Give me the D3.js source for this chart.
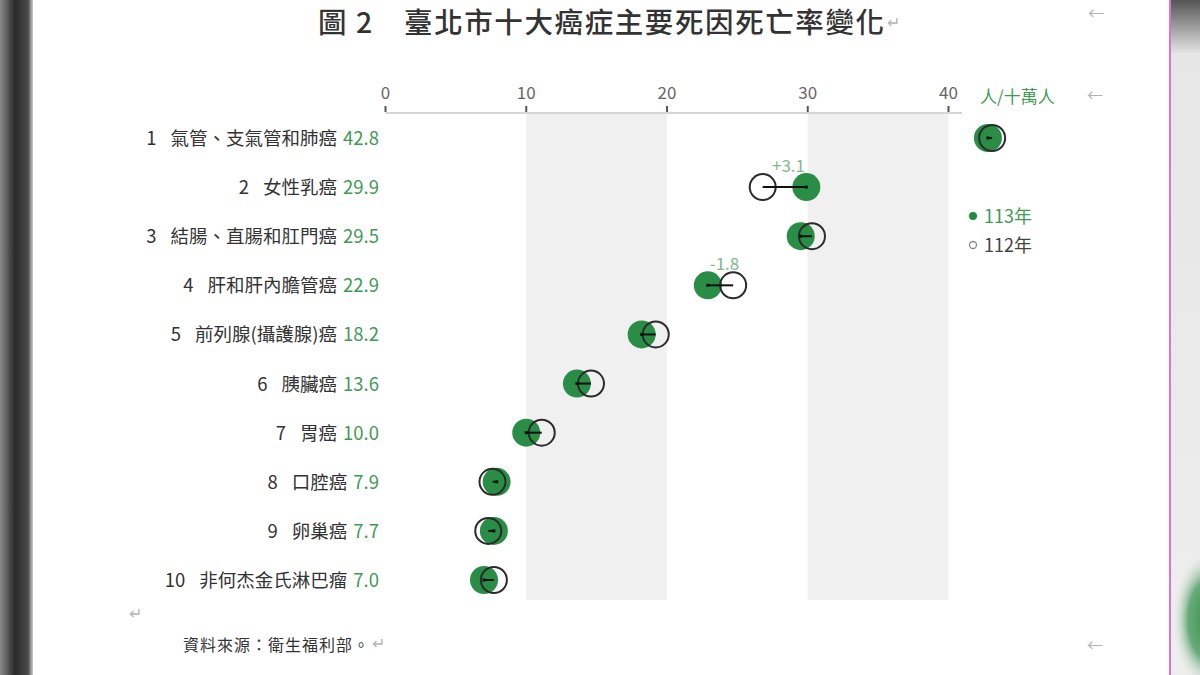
<!DOCTYPE html>
<html>
<head>
<meta charset="UTF-8">
<style>
  body { margin: 0; background: #fff; }
  svg { display: block; font-family: "Noto Sans CJK TC", "Noto Sans", sans-serif; }
  .tick-label { font-size: 17px; fill: #666; text-anchor: middle; }
  .row-label { font-size: 18.5px; fill: #333; text-anchor: end; }
  .mark { fill: #b5b5b5; font-size: 16px; }
</style>
</head>
<body>
<script src="https://cdn.jsdelivr.net/npm/d3@7"></script>
<script>
// data (deaths per 100k)
const ranks = [1, 2, 3, 4, 5, 6, 7, 8, 9, 10];
const causes = ["氣管、支氣管和肺癌", "女性乳癌", "結腸、直腸和肛門癌", "肝和肝內膽管癌",
  "前列腺(攝護腺)癌", "胰臟癌", "胃癌", "口腔癌", "卵巢癌", "非何杰金氏淋巴瘤"];
const rate113 = [42.8, 29.9, 29.5, 22.9, 18.2, 13.6, 10.0, 7.9, 7.7, 7.0];
const rate112 = [43.1, 26.8, 30.3, 24.7, 19.2, 14.6, 11.1, 7.6, 7.3, 7.7];
const deltaLabels = ["", "+3.1", "", "-1.8", "", "", "", "", "", ""];
const xTicks = [0, 10, 20, 30, 40];
const bands = [[10, 20], [30, 40]];

const width = 1200, height = 675;
const green = "#22893f";

const svg = d3.select("body").append("svg")
  .attr("width", width)
  .attr("height", height);

// screenshot edges
const defs = svg.append("defs");
const lg = defs.append("linearGradient").attr("id", "leftEdge");
lg.append("stop").attr("offset", "0").attr("stop-color", "#8a8a8a");
lg.append("stop").attr("offset", "0.45").attr("stop-color", "#2a2a2a");
lg.append("stop").attr("offset", "0.85").attr("stop-color", "#4a4a4a");
lg.append("stop").attr("offset", "1").attr("stop-color", "#cfcfcf");
svg.append("rect").attr("x", 0).attr("y", 0).attr("width", 33).attr("height", height)
  .attr("fill", "url(#leftEdge)");

const rg = defs.append("linearGradient").attr("id", "rightEdge")
  .attr("x1", 0).attr("x2", 0).attr("y1", 0).attr("y2", 1);
rg.append("stop").attr("offset", "0").attr("stop-color", "#555");
rg.append("stop").attr("offset", "0.08").attr("stop-color", "#e6e6e6");
rg.append("stop").attr("offset", "1").attr("stop-color", "#eeeeee");
svg.append("rect").attr("x", 1171).attr("y", 0).attr("width", 29).attr("height", height)
  .attr("fill", "url(#rightEdge)");
const blob = defs.append("radialGradient").attr("id", "blob");
blob.append("stop").attr("offset", "0").attr("stop-color", "#38904f");
blob.append("stop").attr("offset", "0.55").attr("stop-color", "#67aa78");
blob.append("stop").attr("offset", "1").attr("stop-color", "#eeeeee").attr("stop-opacity", 0);
svg.append("ellipse").attr("cx", 1208).attr("cy", 620).attr("rx", 36).attr("ry", 70)
  .attr("fill", "url(#blob)");
svg.append("line").attr("x1", 1170).attr("x2", 1170).attr("y1", 0).attr("y2", height)
  .attr("stroke", "#cc44cc").attr("stroke-width", 1.5);

// title
svg.append("text")
  .attr("x", 318).attr("y", 33)
  .attr("font-size", 28.5).attr("font-weight", 500).attr("letter-spacing", 1.6).attr("fill", "#333")
  .text("圖 2　臺北市十大癌症主要死因死亡率變化");
svg.append("text").attr("class", "mark").attr("x", 887).attr("y", 28).attr("font-size", 20).text("↵");

// scales
const x = d3.scaleLinear().domain([0, 40]).range([385.5, 948.5]);
const y = d3.scalePoint().domain(ranks).range([138, 580]);
const plotTop = 113, plotBottom = 600;

svg.append("g").selectAll("rect")
  .data(bands)
  .join("rect")
  .attr("x", d => x(d[0]))
  .attr("width", d => x(d[1]) - x(d[0]))
  .attr("y", plotTop)
  .attr("height", plotBottom - plotTop)
  .attr("fill", "#f0f0f0");

// axis on top
const axis = svg.append("g");
axis.append("line")
  .attr("x1", x(0)).attr("x2", 962)
  .attr("y1", plotTop).attr("y2", plotTop)
  .attr("stroke", "#d6d6d6").attr("stroke-width", 2);
axis.selectAll(".tick")
  .data(xTicks)
  .join("line")
  .attr("x1", d => x(d)).attr("x2", d => x(d))
  .attr("y1", plotTop - 7).attr("y2", plotTop - 1)
  .attr("stroke", "#555").attr("stroke-width", 2);
axis.selectAll(".tick-label")
  .data(xTicks)
  .join("text")
  .attr("class", "tick-label")
  .attr("x", d => x(d))
  .attr("y", 99)
  .text(d => d);
svg.append("text")
  .attr("x", 980).attr("y", 103)
  .attr("font-size", 17).attr("fill", "#3f9a55")
  .text("人/十萬人");

// row labels
const labels = svg.append("g").selectAll("text")
  .data(ranks)
  .join("text")
  .attr("class", "row-label")
  .attr("x", 379)
  .attr("y", d => y(d) + 7);
labels.append("tspan").text(d => d);
labels.append("tspan").attr("dx", 14).text((d, i) => causes[i]);
labels.append("tspan").attr("dx", 6).attr("fill", "#3f9a55").text((d, i) => rate113[i].toFixed(1));

// dots
const rows = svg.append("g").selectAll("g")
  .data(ranks)
  .join("g");
rows.append("circle")
  .attr("cx", (d, i) => x(rate113[i]))
  .attr("cy", d => y(d))
  .attr("r", 14)
  .attr("fill", green)
  .attr("opacity", 0.97);
rows.append("circle")
  .attr("cx", (d, i) => x(rate112[i]))
  .attr("cy", d => y(d))
  .attr("r", 13)
  .attr("fill", "none")
  .attr("stroke", "#2b2b2b")
  .attr("stroke-width", 2);
rows.append("line")
  .attr("x1", (d, i) => x(rate112[i]))
  .attr("x2", (d, i) => x(rate113[i]))
  .attr("y1", d => y(d)).attr("y2", d => y(d))
  .attr("stroke", "#111")
  .attr("stroke-width", 2);
rows.append("rect")
  .attr("x", (d, i) => x(rate113[i]) - 1.5)
  .attr("y", d => y(d) - 1.5)
  .attr("width", 3).attr("height", 3)
  .attr("fill", "#111");
rows.append("text")
  .attr("x", (d, i) => (x(rate112[i]) + x(rate113[i])) / 2 + 4)
  .attr("y", d => y(d) - 15)
  .attr("text-anchor", "middle")
  .attr("font-size", 17)
  .attr("fill", "#7fb98c")
  .text((d, i) => deltaLabels[i]);

// legend
const legend = svg.append("g");
legend.append("circle").attr("cx", 973).attr("cy", 216).attr("r", 4).attr("fill", green);
legend.append("text").attr("x", 984).attr("y", 223).attr("font-size", 18).attr("fill", "#3f9a55").text("113年");
legend.append("circle").attr("cx", 973).attr("cy", 245).attr("r", 3.5)
  .attr("fill", "none").attr("stroke", "#888").attr("stroke-width", 1.3);
legend.append("text").attr("x", 984).attr("y", 252).attr("font-size", 18).attr("fill", "#444").text("112年");

// source and formatting marks
svg.append("text")
  .attr("x", 183).attr("y", 651)
  .attr("font-size", 16).attr("letter-spacing", 1).attr("fill", "#333")
  .text("資料來源：衛生福利部。");
svg.append("text").attr("class", "mark").attr("x", 372).attr("y", 649).text("↵");
svg.append("text").attr("class", "mark").attr("x", 129).attr("y", 619).text("↵");
svg.append("text").attr("class", "mark").attr("x", 1088).attr("y", 19).attr("font-size", 13).text("←");
[101, 651].forEach(yy => {
  svg.append("text").attr("class", "mark").attr("x", 1087).attr("y", yy).text("←");
});
</script>
</body>
</html>
